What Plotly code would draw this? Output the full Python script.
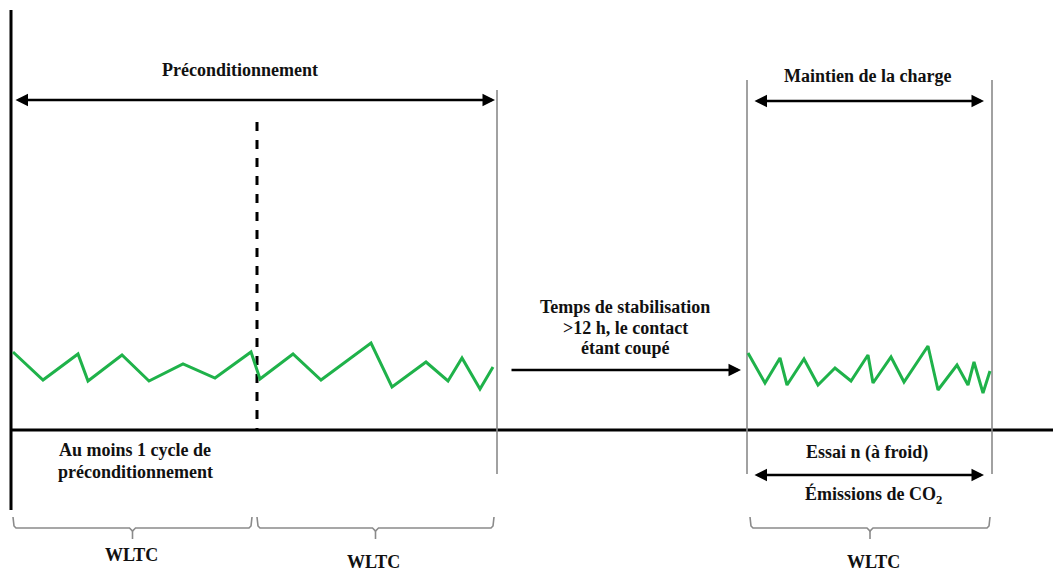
import plotly.graph_objects as go

# green speed traces (pixel-space diagram: x right, y down)
cycle_pre_x = [13, 43, 78, 88, 122, 149, 183, 215, 251, 260, 293, 321, 371, 392, 426, 448, 462, 480, 493]
cycle_pre_y = [352, 380, 354, 381, 355, 381, 364, 378, 352, 379, 354, 380, 343, 387, 362, 381, 358, 389, 367]
cycle_test_x = [748, 765, 780, 787, 804, 818, 835, 851, 868, 873, 891, 904, 928, 938, 957, 968, 974, 983, 990]
cycle_test_y = [353, 383, 358, 385, 359, 385, 368, 381, 355, 383, 357, 382, 346, 390, 365, 385, 362, 393, 371]

GREEN = "#1fb24a"
GREY = "#8a8a8a"
FONT = dict(family="Liberation Serif", size=18, color="#111111")
PAGE_MARGIN = 8  # browser body margin around the plot div

fig = go.Figure()


def line(x, y, color="black", width=2, dash=None):
    fig.add_trace(go.Scatter(x=x, y=y, mode="lines", hoverinfo="skip", showlegend=False,
                             line=dict(color=color, width=width, dash=dash)))


def bracket(x0, x1):
    xm = (x0 + x1) / 2
    line([x0, x0 + 1, x0 + 3, xm - 3, xm, xm + 3, x1 - 3, x1 - 1, x1],
         [517, 526, 528, 528, 531, 528, 528, 526, 517], color=GREY, width=1.6)
    line([xm, xm], [531, 539], color=GREY, width=1.6)


# axes
line([11, 11], [10, 510], width=3)
line([11, 1070], [430, 430], width=3)

# phase boundaries
line([497, 497], [90, 474], color=GREY, width=1.6)
line([747, 747], [80, 474], color=GREY, width=1.6)
line([992, 992], [80, 474], color=GREY, width=1.6)
line([257, 257], [122, 430], width=3, dash="dash")

# speed traces
line(cycle_pre_x, cycle_pre_y, color=GREEN, width=3)
line(cycle_test_x, cycle_test_y, color=GREEN, width=3)

# brackets
bracket(13, 252)
bracket(257, 494)
bracket(750, 990)


def arrow(x0, x1, y, both=True):
    fig.add_annotation(x=x1, y=y, ax=x0, ay=y, xref="x", yref="y", axref="x", ayref="y",
                       text="", showarrow=True, arrowhead=2, arrowsize=1, arrowwidth=2.5,
                       arrowcolor="black", arrowside="end+start" if both else "end",
                       startarrowhead=2, startarrowsize=1)


arrow(14, 495, 100)
arrow(753, 984, 101)
arrow(753, 984, 475)
arrow(510, 741, 370, both=False)


def label(x, y, text):
    fig.add_annotation(x=x, y=y, xref="x", yref="y", text="<b>" + text + "</b>",
                       showarrow=False, font=FONT, align="center")


label(240, 70, "Préconditionnement")
label(867, 76, "Maintien de la charge")
label(625, 307, "Temps de stabilisation")
label(625, 328, ">12 h, le contact")
label(625, 348, "étant coupé")
label(135, 450, "Au moins 1 cycle de")
label(135, 472, "préconditionnement")
label(867, 452, "Essai n (à froid)")
label(873, 495, "Émissions de CO<sub>2</sub>")
label(131, 555, "WLTC")
label(373, 562, "WLTC")
label(873, 562, "WLTC")

fig.update_layout(
    width=1061, height=578,
    margin=dict(l=0, r=0, t=0, b=0),
    paper_bgcolor="white", plot_bgcolor="white",
    xaxis=dict(range=[PAGE_MARGIN, 1061 + PAGE_MARGIN], visible=False, fixedrange=True),
    yaxis=dict(range=[578 + PAGE_MARGIN, PAGE_MARGIN], visible=False, fixedrange=True),
    font=FONT,
)

fig.write_html("out.html")
